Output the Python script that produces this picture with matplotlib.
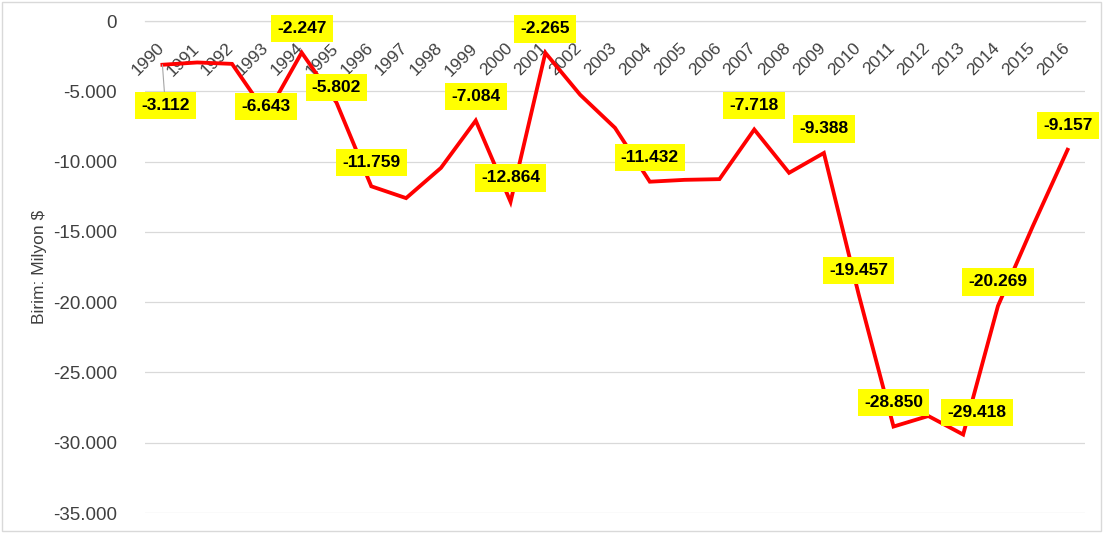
import numpy as np
import matplotlib
matplotlib.use("Agg")
import matplotlib.pyplot as plt
from matplotlib.transforms import ScaledTranslation
from matplotlib.patches import Rectangle

plt.rcParams['font.family'] = ['Liberation Sans', 'DejaVu Sans']

#---------------------------------------------------
# data (Milyon $)
years = list(range(1990, 2017))
values = [-3112, -2950, -3050, -6643, -2247, -5802, -11759, -12600, -10450,
          -7084, -12864, -2265, -5250, -7600, -11432, -11300, -11250, -7718,
          -10800, -9388, -19457, -28850, -28100, -29418, -20269, -14600, -9157]
labelled_years = [1990, 1993, 1994, 1995, 1996, 1999, 2000, 2001, 2004,
                  2007, 2009, 2010, 2011, 2013, 2014, 2016]
yticks = list(range(0, -35001, -5000))

# label box offsets in pixels (dx, dy), default is just above the point
default_off = (0, 24)
label_off = {1990: (3, -41), 1993: (-1, 8), 1995: (0, 15), 2013: (14, 22)}

def fmt(v):
  return f"{v:,}".replace(",", ".")

#---------------------------------------------------
fig = plt.figure(figsize=(11.03, 5.33), dpi=100)
ax = fig.add_axes([145/1103, 1-513/533, 940/1103, 492/533])

x = np.arange(len(years))
ax.plot(x, values, color="#ff0000", lw=2.75, solid_joinstyle="miter", zorder=3)

ax.set_xlim(-0.5, len(years)-0.5)
ax.set_ylim(-35000, 0)
ax.set_yticks(yticks)
ax.set_yticklabels([fmt(v) for v in yticks], fontsize=13.5, color="#404040")
ax.tick_params(axis="y", length=0, pad=20)
ax.yaxis.grid(True, color="#d9d9d9", lw=0.9)
ax.set_axisbelow(True)

for s in ["left", "right", "top"]:
  ax.spines[s].set_visible(False)
ax.spines["bottom"].set_position(("data", 0))
ax.spines["bottom"].set_color("#d9d9d9")
ax.spines["bottom"].set_linewidth(0.9)

ax.set_xticks(x)
ax.set_xticklabels([str(y) for y in years], rotation=45, ha="right",
                   rotation_mode="anchor", fontsize=12.5, color="#404040")
ax.tick_params(axis="x", length=0, pad=14)
shift = ScaledTranslation(-6/100, 0, fig.dpi_scale_trans)
for lab in ax.get_xticklabels():
  lab.set_transform(lab.get_transform() + shift)

ax.set_ylabel("Birim: Milyon $", fontsize=12.5, color="#404040")
ax.yaxis.set_label_coords(-98/940, 0.5)

for yr in labelled_years:
  i = years.index(yr)
  dx, dy = label_off.get(yr, default_off)
  arrow = None
  if yr == 1990:
    arrow = dict(arrowstyle="-", color="#a6a6a6", lw=0.8, shrinkA=0, shrinkB=0)
  ax.annotate(fmt(values[i]), (x[i], values[i]), xytext=(dx, dy),
              textcoords="offset pixels", ha="center", va="center",
              fontsize=12.5, fontweight="bold", color="black",
              bbox=dict(boxstyle="square,pad=0.36", fc="#ffff00", ec="none"),
              arrowprops=arrow, zorder=4)

# light frame round the whole chart
fig.patches.append(Rectangle((0.002, 0.003), 0.996, 0.994, transform=fig.transFigure,
                             fill=False, ec="#d9d9d9", lw=1))

fig.savefig("out.png", dpi=100)
plt.close()
